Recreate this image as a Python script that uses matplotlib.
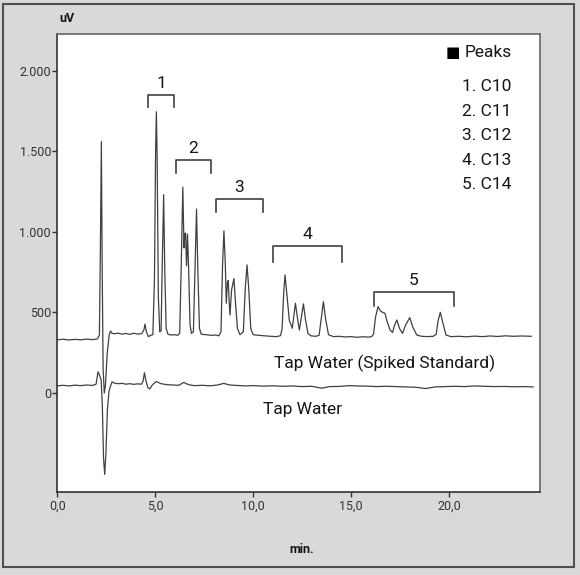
import matplotlib
matplotlib.use("Agg")
import matplotlib.pyplot as plt
from matplotlib.patches import Rectangle

plt.rcParams['font.family'] = ['Roboto', 'DejaVu Sans']

# spiked standard trace (time in min, signal in uV)
spiked_t = [0.0, 0.3, 0.6, 0.9, 1.2, 1.5, 1.8, 2.05,
            2.15, 2.20, 2.25, 2.29, 2.34, 2.40, 2.46, 2.55, 2.65, 2.72, 2.80, 2.95,
            3.1, 3.3, 3.5, 3.7, 3.9, 4.1, 4.3,
            4.42, 4.48, 4.55, 4.65, 4.8,
            4.88, 4.96, 5.02, 5.06, 5.10, 5.16, 5.23, 5.30,
            5.36, 5.43, 5.49, 5.56, 5.65, 5.8, 6.0, 6.15,
            6.25, 6.33, 6.41, 6.47, 6.51, 6.55, 6.60, 6.65, 6.70, 6.78, 6.85,
            6.95, 7.03, 7.11, 7.18, 7.26, 7.35, 7.6, 7.9, 8.1, 8.25,
            8.36, 8.44, 8.51, 8.58, 8.63, 8.69, 8.73, 8.78, 8.82, 8.90, 9.02, 9.10, 9.20, 9.33,
            9.50, 9.60, 9.69, 9.78, 9.88, 10.0, 10.3, 10.6, 10.9, 11.2, 11.4,
            11.48, 11.56, 11.63, 11.72, 11.85, 12.0, 12.08, 12.16, 12.26, 12.36, 12.46, 12.57,
            12.67, 12.80, 12.95, 13.2,
            13.37, 13.48, 13.59, 13.70, 13.85, 14.1, 14.4, 14.7, 15.0, 15.3, 15.6, 15.9, 16.05,
            16.15, 16.25, 16.38, 16.50, 16.62, 16.73, 16.85, 17.0, 17.12, 17.22, 17.34, 17.48,
            17.63, 17.78, 18.0, 18.15, 18.36, 18.6, 18.9, 19.2,
            19.35, 19.45, 19.56, 19.68, 19.85, 20.1, 20.5, 20.9, 21.3, 21.7, 22.1, 22.5, 22.9,
            23.3, 23.7, 24.2]
spiked_v = [330, 334, 329, 333, 330, 335, 331, 336,
            360, 900, 1560, 800, 150, 0, 50, 250, 360, 385, 370, 368,
            372, 365, 370, 364, 371, 366, 368,
            390, 428, 380, 350, 360,
            362, 700, 1500, 1745, 1450, 600, 380, 386,
            800, 1230, 750, 400, 365, 360, 362, 358,
            370, 800, 1277, 900, 990, 992, 790, 985, 800, 420, 370,
            380, 750, 1141, 750, 400, 365, 362, 358, 360, 355,
            380, 800, 1006, 800, 557, 690, 698, 560, 484, 640, 710, 560, 400, 362,
            380, 650, 795, 640, 400, 362, 358, 355, 352, 350, 356,
            400, 620, 733, 620, 450, 402, 480, 557, 470, 391, 470, 553,
            460, 370, 355, 352,
            358, 460, 567, 460, 362, 350, 352, 348, 350, 346, 349, 347, 350,
            365, 470, 536, 510, 500, 495, 440, 390, 375, 420, 453, 400,
            370, 420, 468, 410, 360, 352, 350, 352,
            365, 450, 501, 440, 360, 350, 352, 349, 353, 350, 354, 351, 355,
            352, 354, 352]

# tap water trace
tap_t = [0.0, 0.3, 0.6, 0.9, 1.2, 1.5, 1.8, 1.98, 2.08, 2.16, 2.24, 2.30, 2.36, 2.42,
         2.48, 2.56, 2.64, 2.72, 2.80, 2.9, 3.1, 3.3, 3.5, 3.7, 3.9, 4.1, 4.3, 4.38,
         4.45, 4.52, 4.62, 4.72, 4.85, 5.05, 5.3, 5.6, 5.9, 6.2, 6.46, 6.7, 7.0, 7.4,
         7.8, 8.2, 8.5, 8.8, 9.2, 9.6, 10.0, 10.5, 11.0, 11.5, 12.0, 12.5, 13.0, 13.5,
         13.9, 14.4, 14.9, 15.3, 15.8, 16.3, 16.8, 17.3, 17.8, 18.3, 18.8, 19.3, 19.8,
         20.3, 20.8, 21.3, 21.8, 22.3, 22.8, 23.3, 23.8, 24.3]
tap_v = [45, 48, 44, 49, 46, 50, 47, 55, 132, 110, 80, -80, -400, -505,
         -380, -100, 10, 45, 70, 62, 58, 60, 55, 58, 54, 57, 55, 75,
         126, 80, 35, 25, 50, 72, 58, 52, 50, 48, 66, 52, 46, 48,
         45, 50, 60, 50, 47, 44, 46, 43, 45, 42, 44, 40, 42, 30,
         40, 41, 46, 44, 43, 40, 42, 40, 38, 36, 28, 38, 40,
         42, 40, 44, 42, 40, 41, 39, 40, 38]

# peak group brackets
group_labels = ['1', '2', '3', '4', '5']
bracket_start = [4.65, 6.04, 8.13, 11.03, 16.15]
bracket_end = [5.98, 7.83, 10.49, 14.54, 20.27]
bracket_top = [1851, 1447, 1205, 915, 629]
bracket_foot = [1775, 1368, 1120, 815, 540]

peak_names = ['1. C10', '2. C11', '3. C12', '4. C13', '5. C14']

y_ticks = [0, 500, 1000, 1500, 2000]
y_tick_labels = ['0', '500', '1.000', '1.500', '2.000']
x_ticks = [0, 5, 10, 15, 20]
x_tick_labels = ['0,0', '5,0', '10,0', '15,0', '20,0']

line_col = '#404040'
txt_col = '#151515'

fig = plt.figure(figsize=(5.8, 5.75), dpi=100)
fig.patch.set_facecolor('#d9d9d9')
fig.patches.append(Rectangle((0.006, 0.014), 0.984, 0.979, transform=fig.transFigure,
                             fill=False, edgecolor='#505050', linewidth=1.5))

ax = fig.add_axes([0.0988, 0.1443, 0.8322, 0.7965])
ax.set_facecolor('white')

ax.plot(spiked_t, spiked_v, color=line_col, lw=0.9)
ax.plot(tap_t, tap_v, color=line_col, lw=0.9)

for lab, x0, x1, top, foot in zip(group_labels, bracket_start, bracket_end, bracket_top, bracket_foot):
    ax.plot([x0, x0, x1, x1], [foot, top, top, foot], color=line_col, lw=1.2)
    ax.text((x0 + x1) / 2, top + 25, lab, ha='center', va='bottom', fontsize=12.5, color=txt_col)

ax.text(16.7, 186, 'Tap Water (Spiked Standard)', ha='center', va='center', fontsize=12.5, color=txt_col)
ax.text(12.5, -99, 'Tap Water', ha='center', va='center', fontsize=12.5, color=txt_col)

# peak legend
ax.text(0.819, 0.959, '\u25A0', transform=ax.transAxes, ha='center', va='center', fontsize=11,
        color='black', family='DejaVu Sans')
ax.text(0.843, 0.959, 'Peaks', transform=ax.transAxes, ha='left', va='center', fontsize=12.5, color=txt_col)
for i, name in enumerate(peak_names):
    ax.text(0.838, 0.885 - i * 0.0535, name, transform=ax.transAxes, ha='left', va='center',
            fontsize=12.5, color=txt_col)

ax.set_xlim(0, 24.65)
ax.set_ylim(-614, 2227)
ax.set_xticks(x_ticks)
ax.set_xticklabels(x_tick_labels)
ax.set_yticks(y_ticks)
ax.set_yticklabels(y_tick_labels)
ax.tick_params(axis='both', direction='out', labelsize=9, colors='#333333', width=1, length=3.5)
ax.tick_params(axis='y', pad=1)
ax.tick_params(axis='x', pad=2)
for s in ['left', 'bottom']:
    ax.spines[s].set_color('#333333')
    ax.spines[s].set_linewidth(1.2)
for s in ['top', 'right']:
    ax.spines[s].set_color('#666666')
    ax.spines[s].set_linewidth(1.2)

fig.text(0.116, 0.967, 'uV', ha='center', va='center', fontsize=9, fontweight='bold', color=txt_col)
fig.text(0.52, 0.045, 'min.', ha='center', va='center', fontsize=9, fontweight='bold', color=txt_col)

fig.savefig('out.png', dpi=100, facecolor=fig.get_facecolor())
